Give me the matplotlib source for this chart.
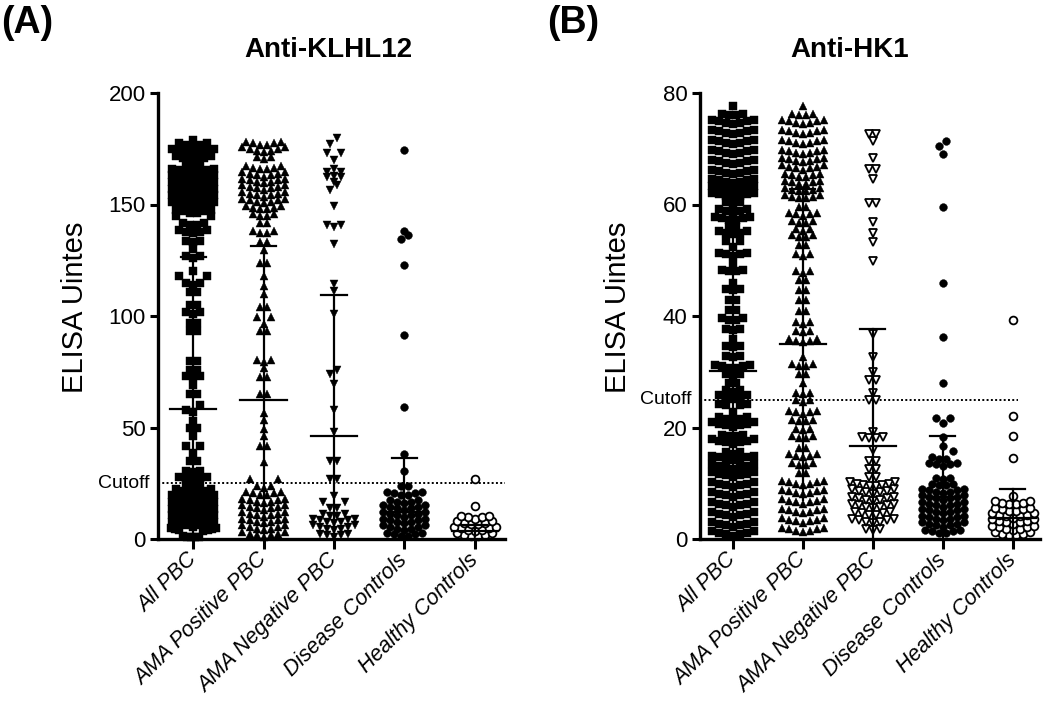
import numpy as np
import matplotlib
matplotlib.use("Agg")
import matplotlib.pyplot as plt
import matplotlib.transforms as mtransforms

plt.rcParams["font.family"] = ["Liberation Sans", "DejaVu Sans"]

groups = ["All PBC", "AMA Positive PBC", "AMA Negative PBC",
          "Disease Controls", "Healthy Controls"]
cutoff = 25

# (value, number of points at that level)
klhl_all = [(0.5, 5), (2.5, 7), (5.5, 7), (8.5, 7), (11.5, 7), (14.5, 7), (17.5, 7),
            (20.5, 6), (23.5, 3), (26.5, 5), (30, 3), (34.5, 2), (38.5, 1), (41, 2),
            (46, 1), (49.5, 2), (53, 1), (57, 2), (59.5, 1), (64.5, 2), (69, 1),
            (72.5, 3), (75.5, 2), (79.5, 2), (93, 2), (96.5, 2), (101, 3), (104.5, 2),
            (110.5, 2), (114, 3), (116.5, 2), (120, 1), (126, 3), (130, 1), (133, 3),
            (137, 5), (140.5, 4), (143, 2), (146, 6), (149, 7), (152, 7), (155, 7),
            (158, 7), (161, 7), (164, 7), (167, 3), (170, 6), (173, 7), (176, 5), (179, 1)]
klhl_pos = [(1, 7), (4, 7), (7, 7), (10, 7), (13, 7), (16, 7), (19.5, 6), (23, 3),
            (25.5, 2), (34.5, 1), (41.5, 2), (46, 1), (49.5, 1), (53.5, 1), (56.5, 1),
            (64.5, 2), (72.5, 2), (76.5, 1), (79.5, 3), (93, 2), (96.5, 1), (99, 2),
            (103.5, 2), (110, 1), (113.5, 1), (118, 1), (123.5, 2), (129.5, 1), (133, 2),
            (137, 4), (141.5, 2), (144.5, 4), (147.5, 6), (150.5, 7), (153.5, 7),
            (156.5, 7), (159.5, 7), (162.5, 7), (165.5, 6), (170.5, 3), (173.5, 7), (176.5, 6)]
klhl_neg = [(1, 5), (4, 7), (7, 7), (10, 4), (13.5, 2), (15.5, 2), (19.5, 1), (26.5, 2),
            (34.5, 2), (48, 1), (58, 1), (69.5, 1), (73.5, 1), (75.5, 1), (101, 1),
            (111, 1), (114.5, 1), (132.5, 1), (140, 3), (149.5, 1), (156, 1), (158.5, 1),
            (160, 1), (161.5, 2), (163, 1), (164, 2), (166, 1), (170, 1), (172.5, 2),
            (177, 1), (179.5, 1)]
klhl_dis = [(1, 6), (4, 7), (7, 7), (10, 7), (13, 7), (16, 5), (19.5, 6), (23.5, 2),
            (30.5, 1), (38, 1), (59, 1), (91.5, 1), (123, 1), (134, 1), (136, 1),
            (138, 1), (174.5, 1)]
klhl_hea = [(0.8, 6), (3.5, 7), (6.2, 6), (9, 5), (15, 1), (27, 1)]

hk1_all = [(0.6, 7), (2.2, 7), (4, 7), (5.8, 7), (7.6, 7), (9.4, 7), (11.2, 7), (12.6, 7),
           (14.1, 7), (15.3, 3), (17.1, 7), (18.3, 4), (20.1, 7), (21.3, 5), (22.8, 1),
           (23.7, 4), (25.2, 5), (26.4, 3), (27.9, 2), (29.4, 3), (30.6, 6), (32.6, 3),
           (34.4, 3), (35.9, 1), (37.4, 3), (39.2, 4), (41, 2), (42.8, 2), (44.6, 3),
           (46, 1), (47.9, 4), (49.3, 1), (50.8, 5), (52.3, 1), (53.2, 2), (54.7, 5),
           (55.9, 2), (57.1, 6), (58.6, 5), (60.1, 3), (61.3, 7), (62.5, 7), (63.8, 7),
           (65.4, 7), (67.2, 7), (69, 7), (70.8, 7), (72.6, 7), (74.4, 7), (75.9, 4), (77.7, 1)]
hk1_pos = [(1.2, 7), (2.9, 7), (4.6, 7), (6.3, 7), (8, 7), (9.6, 7), (11.7, 2), (13.2, 4),
           (14.7, 5), (16.2, 2), (18, 4), (19.5, 3), (21, 4), (22.5, 5), (24.6, 3), (26, 3),
           (27.9, 1), (29.4, 2), (30.9, 4), (32.6, 1), (35.3, 5), (37.1, 3), (38.6, 3),
           (40.7, 2), (42.8, 2), (44.6, 2), (46.4, 2), (47.8, 3), (50.8, 3), (52.6, 2),
           (54.1, 4), (55.3, 3), (56.6, 4), (58, 5), (59.5, 2), (61, 6), (62.2, 6),
           (63.6, 6), (64.8, 6), (66.2, 7), (67.6, 7), (69, 7), (70.8, 7), (72.6, 7),
           (74.4, 7), (75.9, 4), (77.7, 1)]
hk1_neg = [(1.6, 3), (2.8, 7), (4.2, 6), (5.5, 7), (6.8, 7), (8.1, 7), (9.3, 8), (11, 2),
           (12.4, 2), (13.8, 2), (15.9, 1), (17.9, 4), (19.2, 1), (24.8, 2), (26.1, 1),
           (28.3, 2), (29.9, 1), (32.6, 1), (36.8, 1), (49.8, 1), (53.3, 1), (54.8, 1),
           (56.9, 1), (60.2, 2), (64.5, 1), (66.3, 2), (68.3, 1), (71.4, 1), (72.6, 2)]
hk1_dis = [(1, 6), (2.2, 7), (3.4, 7), (4.6, 7), (5.8, 7), (7, 7), (8.2, 7), (9.5, 4),
           (10.7, 3), (13.1, 5), (14.3, 3), (15.3, 1), (16.6, 1), (18.3, 1), (20.8, 1),
           (21.4, 2), (28, 1), (36.3, 1), (45.9, 1), (59.5, 1), (69.1, 1), (70.4, 1), (71.2, 1)]
hk1_hea = [(0.5, 6), (1.6, 7), (2.7, 7), (3.8, 7), (4.9, 6), (6.1, 6), (7.7, 1),
           (14.6, 1), (18.4, 1), (22, 1), (39.3, 1)]

klhl_mean = [58.2, 62.2, 46.1, 12.0, 3.7]
klhl_sd = [68.4, 69.3, 63.5, 24.2, 2.5]
hk1_mean = [30.2, 34.9, 16.6, 7.5, 3.8]
hk1_sd = [27.6, 27.9, 21.0, 10.9, 5.1]


def swarm(rows, row_h, dx=0.1, half=0.32, lift=0.0):
    # GraphPad style: bin into rows, spread each row sideways, lowest in the middle
    vals = np.sort(np.repeat([r[0] for r in rows], [r[1] for r in rows]))
    xs, ys = [], []
    i = 0
    while i < len(vals):
        j = i
        while j < len(vals) and vals[j] - vals[i] < row_h - 1e-9:
            j += 1
        row = vals[i:j]
        n = len(row)
        step = dx if n == 1 else min(dx, 2 * half / (n - 1))
        off = (np.arange(n) - (n - 1) / 2) * step
        off = off[np.argsort(np.abs(off), kind="stable")]
        xs.extend(off)
        ys.extend(row + lift * np.abs(off) / dx)
        i = j
    return np.array(xs), np.array(ys)


def panel(ax, data, means, sds, ymax, yticks, row_h, lift, marks, xlim, cut_end):
    for k, rows in enumerate(data):
        xo, yv = swarm(rows, row_h, lift=lift)
        m, fc, ms = marks[k]
        ax.plot(k + xo, yv, ls="none", marker=m, mfc=fc, mec="k", ms=ms,
                mew=1.3 if fc == "w" else 0.3, clip_on=False, zorder=2)
        lo = max(0, means[k] - sds[k])
        hi = means[k] + sds[k]
        ax.plot([k, k], [lo, hi], color="k", lw=1.6, zorder=3, clip_on=False)
        ax.plot([k - 0.18, k + 0.18], [hi, hi], color="k", lw=1.6, zorder=3)
        ax.plot([k - 0.33, k + 0.33], [means[k], means[k]], color="k", lw=1.6, zorder=3)

    ax.hlines(cutoff, xlim[0], cut_end, colors="k", linestyles=(0, (1, 1.2)), lw=1.4, zorder=1)
    trans = mtransforms.blended_transform_factory(ax.transAxes, ax.transData)
    ax.text(-0.025, cutoff, "Cutoff", transform=trans, ha="right", va="center", fontsize=14)

    ax.set_xlim(*xlim)
    ax.set_ylim(0, ymax)
    ax.set_yticks(yticks)
    ax.set_xticks(range(len(groups)))
    ax.set_xticklabels(groups, rotation=45, ha="right", va="center",
                       rotation_mode="anchor", fontstyle="italic", fontsize=15.5)
    ax.tick_params(axis="y", labelsize=16, length=6, width=2.2, direction="out", pad=3)
    ax.tick_params(axis="x", length=7, width=2.2, direction="out", pad=6)
    for s in ["top", "right"]:
        ax.spines[s].set_visible(False)
    for s in ["left", "bottom"]:
        ax.spines[s].set_linewidth(2.4)


fig = plt.figure(figsize=(10.5, 7.02), dpi=100)
ax1 = fig.add_axes([158 / 1050, 1 - 539 / 702, 347 / 1050, 446 / 702])
ax2 = fig.add_axes([700 / 1050, 1 - 539 / 702, 340 / 1050, 446 / 702])

marks_a = [("s", "k", 5.2), ("^", "k", 6.2), ("v", "k", 6.2), ("o", "k", 5.6), ("o", "w", 5.6)]
marks_b = [("s", "k", 5.2), ("^", "k", 6.2), ("v", "w", 5.6), ("o", "k", 5.6), ("o", "w", 5.6)]

panel(ax1, [klhl_all, klhl_pos, klhl_neg, klhl_dis, klhl_hea], klhl_mean, klhl_sd,
      200, [0, 50, 100, 150, 200], 2.6, 0.7, marks_a, (-0.5, 4.43), 4.43)
panel(ax2, [hk1_all, hk1_pos, hk1_neg, hk1_dis, hk1_hea], hk1_mean, hk1_sd,
      80, [0, 20, 40, 60, 80], 1.05, 0.27, marks_b, (-0.47, 4.39), 4.07)

fig.text(75 / 1050, 1 - 307 / 702, "ELISA Uintes", rotation=90, ha="center", va="center", fontsize=21)
fig.text(618 / 1050, 1 - 307 / 702, "ELISA Uintes", rotation=90, ha="center", va="center", fontsize=21)
fig.text(328 / 1050, 1 - 50 / 702, "Anti-KLHL12", ha="center", va="center", fontsize=20, fontweight="bold")
fig.text(850 / 1050, 1 - 50 / 702, "Anti-HK1", ha="center", va="center", fontsize=20, fontweight="bold")
fig.text(1 / 1050, 1 - 23 / 702, "(A)", ha="left", va="center", fontsize=27, fontweight="bold")
fig.text(547 / 1050, 1 - 23 / 702, "(B)", ha="left", va="center", fontsize=27, fontweight="bold")

fig.savefig("out.png", dpi=100)
